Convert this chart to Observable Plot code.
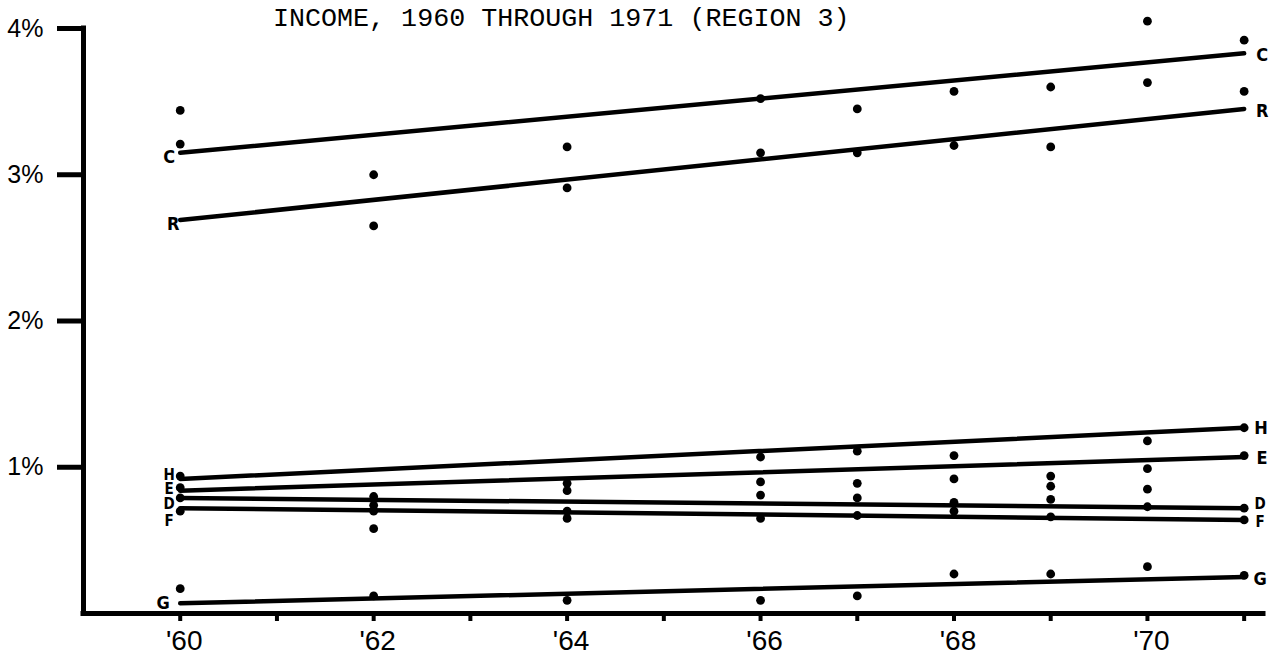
<!DOCTYPE html>
<html>
<head>
<meta charset="utf-8">
<script src="https://cdn.jsdelivr.net/npm/d3@7"></script>
<script src="https://cdn.jsdelivr.net/npm/@observablehq/plot@0.6"></script>
<style>
  html, body { margin: 0; padding: 0; background: #fff; }
  #chart { width: 1282px; height: 656px; }
</style>
</head>
<body>
<div id="chart"></div>
<script>
// Observation years (percent of income per series)
const years = [1960, 1962, 1964, 1966, 1967, 1968, 1969, 1970, 1971];
const seriesNames = ["C", "R", "H", "E", "D", "F", "G"];
const valuesC = [3.44, 3.00, 3.19, 3.52, 3.45, 3.57, 3.60, 4.05, 3.92];
const valuesR = [3.21, 2.65, 2.91, 3.15, 3.15, 3.20, 3.19, 3.63, 3.57];
const valuesH = [0.94, 0.80, 0.89, 1.07, 1.11, 1.08, 0.94, 1.18, 1.27];
const valuesE = [0.86, 0.74, 0.84, 0.90, 0.89, 0.92, 0.87, 0.99, 1.08];
const valuesD = [0.79, 0.70, 0.70, 0.81, 0.79, 0.76, 0.78, 0.85, 0.72];
const valuesF = [0.70, 0.58, 0.65, 0.65, 0.67, 0.70, 0.66, 0.73, 0.64];
const valuesG = [0.17, 0.12, 0.09, 0.09, 0.12, 0.27, 0.27, 0.32, 0.26];

// Fitted trend lines, 1960 to 1971
const trendYears = [1960, 1971];
const trendFrom = [3.15, 2.69, 0.92, 0.84, 0.79, 0.72, 0.07];
const trendTo   = [3.83, 3.45, 1.27, 1.07, 0.72, 0.64, 0.25];

// Axis ticks and labels
const yTicks = [1, 2, 3, 4];
const yTickLabels = ["1%", "2%", "3%", "4%"];
const xTickYears = [1960, 1961, 1962, 1963, 1964, 1965, 1966, 1967, 1968, 1969, 1970, 1971];
const xLabelYears = [1960, 1962, 1964, 1966, 1968, 1970];
const xLabels = ["'60", "'62", "'64", "'66", "'68", "'70"];
const title = "INCOME, 1960 THROUGH 1971 (REGION 3)";

const seriesValues = [valuesC, valuesR, valuesH, valuesE, valuesD, valuesF, valuesG];

const points = seriesNames.flatMap((s, i) =>
  years.map((year, j) => ({series: s, year, value: seriesValues[i][j]})));
const trends = seriesNames.flatMap((s, i) => [
  {series: s, year: trendYears[0], value: trendFrom[i]},
  {series: s, year: trendYears[1], value: trendTo[i]}
]);

// Small nudges so the stacked end letters do not collide
const leftDx  = {C: -11, R: -7, H: -11, E: -11, D: -11, F: -11, G: -17};
const leftDy  = {C: 4, R: 4, H: -4, E: -1, D: 6, F: 13, G: 0};
const rightDx = {C: 18, R: 18, H: 17, E: 18, D: 16, F: 16, G: 16};
const rightDy = {C: 2, R: 2, H: 0, E: 1, D: -4, F: 2, G: 2};
// The tightly stacked letters are set a little smaller
const stacked = {H: true, E: true, D: true, F: true};

const letterStyle = s => ({
  fontFamily: "'DejaVu Sans Condensed', 'DejaVu Sans', sans-serif",
  fontWeight: "bold",
  fontSize: stacked[s] ? 15 : 18,
  fill: "black"
});

const labelMarks = seriesNames.flatMap((s, i) => [
  Plot.text([{series: s, year: trendYears[0], value: trendFrom[i]}],
    {x: "year", y: "value", text: "series", dx: leftDx[s], dy: leftDy[s], ...letterStyle(s)}),
  Plot.text([{series: s, year: trendYears[1], value: trendTo[i]}],
    {x: "year", y: "value", text: "series", dx: rightDx[s], dy: rightDy[s],
     ...letterStyle(s), fontSize: (s === "D" || s === "F") ? 15 : 18})
]);

const chart = Plot.plot({
  width: 1282,
  height: 656,
  marginLeft: 83,
  marginRight: 19,
  marginTop: 28,
  marginBottom: 43,
  x: {domain: [1959, 1971.2], label: null},
  y: {domain: [0, 4], label: null},
  style: {background: "#fff", color: "#000", fontFamily: "'Liberation Sans', sans-serif"},
  marks: [
    Plot.axisY(yTicks, {
      tickSize: 26, tickPadding: 14, strokeWidth: 5, fontSize: 25, label: null,
      tickFormat: d => yTickLabels[yTicks.indexOf(d)]
    }),
    Plot.axisX(xTickYears, {tickSize: 8, strokeWidth: 4, label: null, tickFormat: () => ""}),
    Plot.axisX(xLabelYears, {
      tickSize: 0, tickPadding: 17, fontSize: 28, dx: 4, label: null,
      tickFormat: d => xLabels[xLabelYears.indexOf(d)]
    }),
    Plot.ruleX([1959], {strokeWidth: 5, strokeLinecap: "square"}),
    Plot.ruleY([0], {strokeWidth: 5, strokeLinecap: "square"}),
    Plot.line(trends, {x: "year", y: "value", z: "series", stroke: "black", strokeWidth: 4.5}),
    Plot.dot(points, {x: "year", y: "value", r: 4.4, fill: "black", stroke: null}),
    ...labelMarks
  ]
});

// Heading across the top of the chart
d3.select(chart).append("text")
  .attr("x", 273)
  .attr("y", 26)
  .attr("text-anchor", "start")
  .attr("font-family", "'Liberation Mono', 'DejaVu Sans Mono', monospace")
  .attr("font-size", 26.7)
  .attr("fill", "black")
  .text(title);

document.getElementById("chart").appendChild(chart);
</script>
</body>
</html>
